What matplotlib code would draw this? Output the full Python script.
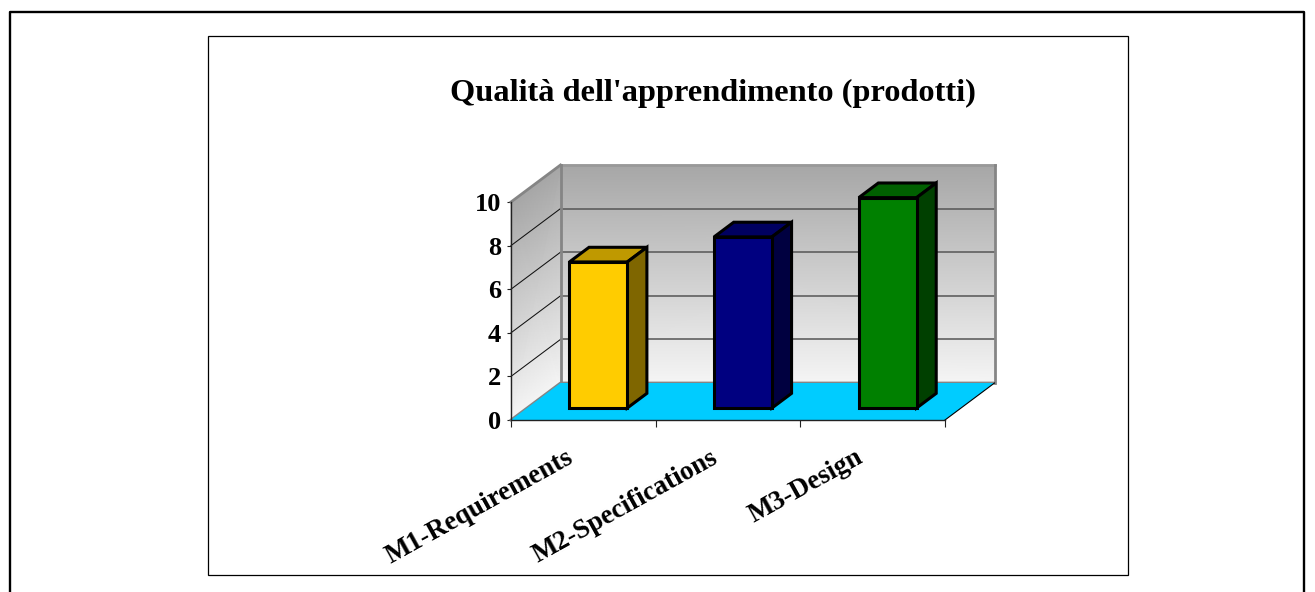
import numpy as np
import matplotlib
matplotlib.use("Agg")
import matplotlib.pyplot as plt
from matplotlib.patches import Polygon, Rectangle
from matplotlib.lines import Line2D

plt.rcParams['font.family'] = ['Liberation Serif', 'DejaVu Serif']
plt.rcParams['font.weight'] = 'bold'

titolo = "Qualità dell'apprendimento (prodotti)"
categorie = ["M1-Requirements", "M2-Specifications", "M3-Design"]
valori = [6.7, 7.85, 9.65]
tick_y = [0, 2, 4, 6, 8, 10]

col_front = ["#FFCC00", "#000080", "#008000"]
col_top = ["#BF9900", "#000060", "#006000"]
col_side = ["#7F6600", "#000040", "#004000"]

W, H = 1315, 592
fig = plt.figure(figsize=(W / 100, H / 100), dpi=100)

# cornici esterne, in pixel
def fx(px):
    return px / W
def fy(py):
    return 1 - py / H

fig.add_artist(Line2D([fx(10), fx(10), fx(1304), fx(1304)], [fy(593), fy(12), fy(12), fy(593)],
                      color="black", lw=1.7))
fig.add_artist(Rectangle((fx(208), fy(575)), 920 / W, 539 / H, fill=False,
                         edgecolor="black", lw=0.9))

# il piano frontale del grafico coincide con gli assi
ax = fig.add_axes([fx(511), fy(420), 434 / W, 218 / H])
ax.set_xlim(0, 3)
ax.set_ylim(0, 10)
ax.patch.set_visible(False)

# profondita' dello spaccato 3D in unita' dati
dx = 49.5 / (434 / 3)
dy = 37 / 21.8

# pareti con sfumatura
pareti = [
    (np.array([[0, 3], [0, 3]]) + dx, np.array([[0, 0], [10, 10]]) + dy),
    (np.array([[0, dx], [0, dx]]), np.array([[0, dy], [10, 10 + dy]])),
]
for X, Y in pareti:
    m = ax.pcolormesh(X, Y, np.array([[0.96, 0.96], [0.65, 0.65]]), shading="gouraud",
                      cmap="gray", vmin=0, vmax=1, zorder=1)
    m.set_clip_on(False)

# griglia
for v in [2, 4, 6, 8]:
    ax.plot([0, dx], [v, v + dy], color="#111111", lw=0.75, zorder=2, clip_on=False)
    ax.plot([dx, 3 + dx], [v + dy, v + dy], color="#555555", lw=1.1, zorder=2, clip_on=False)
ax.plot([dx, 3 + dx], [10 + dy, 10 + dy], color="#999999", lw=2, zorder=3, clip_on=False)
ax.plot([3 + dx, 3 + dx], [dy, 10 + dy], color="#858585", lw=2, zorder=3, clip_on=False)
ax.plot([0, dx], [10, 10 + dy], color="#858585", lw=2, zorder=3, clip_on=False)
ax.plot([dx, dx], [dy, 10 + dy], color="#858585", lw=2, zorder=3, clip_on=False)
ax.plot([0, dx, 3 + dx], [0, dy, dy], color="#858585", lw=2, zorder=3, clip_on=False)

# pavimento
ax.add_patch(Polygon([(0, 0), (dx, dy), (3 + dx, dy), (3, 0)], closed=True, facecolor="#00CCFF",
                     edgecolor="none", zorder=4, clip_on=False))
ax.plot([3, 3 + dx], [0, dy], color="black", lw=0.8, zorder=5, clip_on=False)

# barre
larg = 0.4
d0 = 0.324
d1 = 0.72
for i, v in enumerate(valori):
    x0 = i + 0.493 - larg / 2 + d0 * dx
    x1 = x0 + larg
    y0 = d0 * dy
    y1 = v + y0
    sx = (d1 - d0) * dx
    sy = (d1 - d0) * dy
    front = [(x0, y0), (x1, y0), (x1, y1), (x0, y1)]
    top = [(x0, y1), (x1, y1), (x1 + sx, y1 + sy), (x0 + sx, y1 + sy)]
    side = [(x1, y0), (x1 + sx, y0 + sy), (x1 + sx, y1 + sy), (x1, y1)]
    for pts, col in [(top, col_top[i]), (side, col_side[i]), (front, col_front[i])]:
        ax.add_patch(Polygon(pts, closed=True, facecolor=col, edgecolor="black", lw=2.2,
                             joinstyle="miter", zorder=6 + i, clip_on=False))

# assi
for s in ["top", "right"]:
    ax.spines[s].set_visible(False)
for s in ["left", "bottom"]:
    ax.spines[s].set_color("#222222")
    ax.spines[s].set_linewidth(1.0)
    ax.spines[s].set_zorder(20)
ax.set_yticks(tick_y)
ax.set_yticklabels([str(t) for t in tick_y], fontsize=19, fontweight="bold")
ax.tick_params(axis="y", length=3, width=0.8, pad=4, color="#222222")
ax.set_xticks([0, 1, 2, 3])
ax.set_xticklabels([])
ax.tick_params(axis="x", which="major", length=5, width=0.8, color="#222222")
ax.set_xticks([0.376, 1.376, 2.376], minor=True)
ax.set_xticklabels(categorie, minor=True, fontsize=19.5, fontweight="bold", rotation=29,
                   ha="right", va="top", rotation_mode="anchor")
ax.tick_params(axis="x", which="minor", length=0, pad=18)

fig.text(fx(713), fy(93.5), titolo, fontsize=23.3, fontweight="bold", ha="center", va="center")

fig.savefig("out.png", dpi=100)
print("Saved graph")
